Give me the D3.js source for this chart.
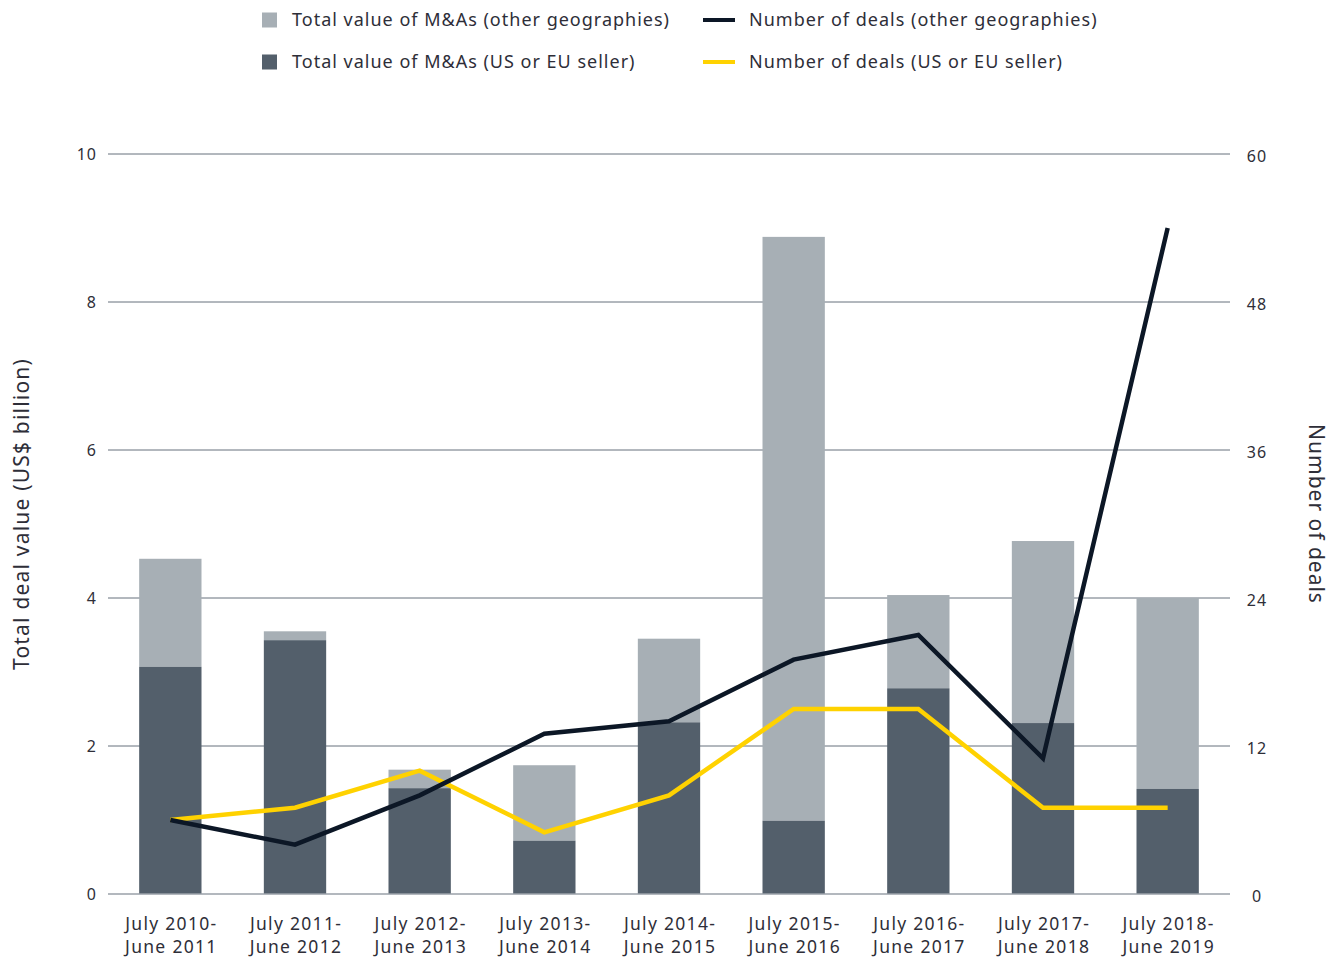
<!DOCTYPE html>
<html>
<head>
<meta charset="utf-8">
<script src="https://cdnjs.cloudflare.com/ajax/libs/d3/7.8.5/d3.min.js"></script>
<style>
  body { margin: 0; background: #fff; }
  text { font-family: "Noto Sans", "Open Sans", sans-serif; fill: #2e2e38; }
</style>
</head>
<body>
<div id="chart"></div>
<script>
var periods = [
    ["July 2010-", "June 2011"], ["July 2011-", "June 2012"], ["July 2012-", "June 2013"],
    ["July 2013-", "June 2014"], ["July 2014-", "June 2015"], ["July 2015-", "June 2016"],
    ["July 2016-", "June 2017"], ["July 2017-", "June 2018"], ["July 2018-", "June 2019"]
];
// US$ billion
var valueUsEu = [3.07, 3.43, 1.43, 0.72, 2.32, 0.99, 2.78, 2.31, 1.42];
var valueOther = [1.46, 0.12, 0.25, 1.02, 1.13, 7.89, 1.26, 2.46, 2.58];
// number of deals
var dealsOther = [6, 4, 8, 13, 14, 19, 21, 11, 54];
var dealsUsEu = [6, 7, 10, 5, 8, 15, 15, 7, 7];
var leftTicks = [0, 2, 4, 6, 8, 10];
var rightTicks = [0, 12, 24, 36, 48, 60];

var colLight = "#a7afb5", colDark = "#535f6b", colBlack = "#0c1726", colYellow = "#ffd200";

var width = 1333, height = 957;
var x0 = 108, x1 = 1230, yTop = 154, yBot = 894;

var svg = d3.select("#chart").append("svg")
    .attr("width", width)
    .attr("height", height);

var x = d3.scaleBand()
    .domain(d3.range(periods.length))
    .range([x0, x1])
    .paddingInner(0.5)
    .paddingOuter(0.25);

var yL = d3.scaleLinear().domain([0, 10]).range([yBot, yTop]);
var yR = d3.scaleLinear().domain([0, 60]).range([yBot, yTop]);

// gridlines
svg.append("g").selectAll("line")
    .data(leftTicks.slice(1))
    .enter().append("line")
    .attr("x1", x0).attr("x2", x1)
    .attr("y1", function (d) { return yL(d); })
    .attr("y2", function (d) { return yL(d); })
    .attr("stroke", "#66717d")
    .attr("stroke-width", 1);

// stacked bars
var bars = svg.append("g").selectAll(".bar")
    .data(periods.map(function (p, i) { return i; }))
    .enter().append("g").attr("class", "bar");

bars.append("rect")
    .attr("x", function (i) { return x(i); })
    .attr("width", x.bandwidth())
    .attr("y", function (i) { return yL(valueUsEu[i] + valueOther[i]); })
    .attr("height", function (i) { return yL(valueUsEu[i]) - yL(valueUsEu[i] + valueOther[i]); })
    .attr("fill", colLight);

bars.append("rect")
    .attr("x", function (i) { return x(i); })
    .attr("width", x.bandwidth())
    .attr("y", function (i) { return yL(valueUsEu[i]); })
    .attr("height", function (i) { return yL(0) - yL(valueUsEu[i]); })
    .attr("fill", colDark);

// baseline
svg.append("line")
    .attr("x1", x0).attr("x2", x1)
    .attr("y1", yL(0)).attr("y2", yL(0))
    .attr("stroke", "#9aa1a8")
    .attr("stroke-width", 1.5);

// lines
var line = d3.line()
    .x(function (d, i) { return x(i) + x.bandwidth() / 2; })
    .y(function (d) { return yR(d); });

svg.append("path")
    .datum(dealsUsEu)
    .attr("d", line)
    .attr("fill", "none")
    .attr("stroke", colYellow)
    .attr("stroke-width", 4.5);

svg.append("path")
    .datum(dealsOther)
    .attr("d", line)
    .attr("fill", "none")
    .attr("stroke", colBlack)
    .attr("stroke-width", 4.5);

// left axis labels
svg.append("g").selectAll("text")
    .data(leftTicks)
    .enter().append("text")
    .attr("x", 97)
    .attr("y", function (d) { return yL(d); })
    .attr("dy", "0.35em")
    .attr("text-anchor", "end")
    .style("font-size", "16px")
    .style("letter-spacing", "1px")
    .text(function (d) { return d; });

// right axis labels
svg.append("g").selectAll("text")
    .data(rightTicks)
    .enter().append("text")
    .attr("x", 1257)
    .attr("y", function (d) { return yR(d) + 2; })
    .attr("dy", "0.35em")
    .attr("text-anchor", "middle")
    .style("font-size", "16px")
    .style("letter-spacing", "1px")
    .text(function (d) { return d; });

// x labels
var xl = svg.append("g").selectAll("text")
    .data(periods)
    .enter().append("text")
    .attr("text-anchor", "middle")
    .style("font-size", "17.5px")
    .style("letter-spacing", "1.3px")
    .attr("transform", function (d, i) { return "translate(" + (x(i) + x.bandwidth() / 2 + 1) + ",0)"; });
xl.append("tspan").attr("x", 0).attr("y", 930).text(function (d) { return d[0]; });
xl.append("tspan").attr("x", 0).attr("y", 953).text(function (d) { return d[1]; });

// axis titles
svg.append("text")
    .attr("transform", "translate(29," + ((yTop + yBot) / 2 - 10) + ") rotate(-90)")
    .attr("text-anchor", "middle")
    .style("font-size", "21px")
    .style("letter-spacing", "1.2px")
    .text("Total deal value (US$ billion)");

svg.append("text")
    .attr("transform", "translate(1309," + ((yTop + yBot) / 2 - 10) + ") rotate(90)")
    .attr("text-anchor", "middle")
    .style("font-size", "21px")
    .style("letter-spacing", "1px")
    .text("Number of deals");

// legend
var legendItems = [
    {label: "Total value of M&As (other geographies)", type: "rect", color: colLight, x: 262, y: 20},
    {label: "Total value of M&As (US or EU seller)", type: "rect", color: colDark, x: 262, y: 62},
    {label: "Number of deals (other geographies)", type: "line", color: colBlack, x: 703, y: 20},
    {label: "Number of deals (US or EU seller)", type: "line", color: colYellow, x: 703, y: 62}
];

var lg = svg.append("g").selectAll("g")
    .data(legendItems)
    .enter().append("g")
    .attr("transform", function (d) { return "translate(" + d.x + "," + d.y + ")"; });

lg.filter(function (d) { return d.type === "rect"; }).append("rect")
    .attr("x", 0).attr("y", -7.5)
    .attr("width", 15).attr("height", 15)
    .attr("fill", function (d) { return d.color; });

lg.filter(function (d) { return d.type === "line"; }).append("line")
    .attr("x1", 0).attr("x2", 32)
    .attr("y1", 0).attr("y2", 0)
    .attr("stroke", function (d) { return d.color; })
    .attr("stroke-width", 4);

lg.append("text")
    .attr("x", function (d) { return d.type === "rect" ? 30 : 46; })
    .attr("dy", "0.35em")
    .style("font-size", "18px")
    .style("letter-spacing", "1px")
    .text(function (d) { return d.label; });
</script>
</body>
</html>
